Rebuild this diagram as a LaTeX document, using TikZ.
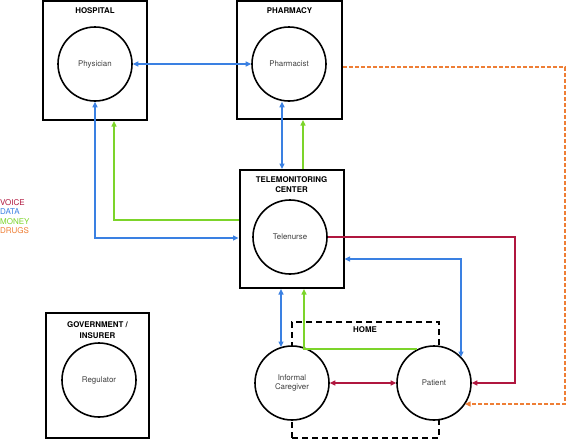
\documentclass[tikz,border=0pt]{standalone}
\usepackage{fontspec}
\setmainfont{TeX Gyre Heros}
\usetikzlibrary{arrows.meta,calc}
\definecolor{cvoice}{HTML}{B0173F}
\definecolor{cdata}{HTML}{3A80E2}
\definecolor{cmoney}{HTML}{7CD42A}
\definecolor{cdrugs}{HTML}{EE7E35}
\begin{document}
\begin{tikzpicture}[x=1pt,y=-1pt,
  org/.style={draw=black,line width=2pt,rectangle,inner sep=0pt},
  actor/.style={draw=black,fill=white,line width=1.6pt,circle,minimum size=74pt,inner sep=0pt,
     font=\fontsize{7.9}{9.5}\selectfont,text=black!75,align=center},
  orglabel/.style={font=\fontsize{7.9}{10.3}\selectfont\bfseries,align=center,inner sep=0pt},
  legend/.style={font=\fontsize{8}{8}\selectfont,anchor=west,inner sep=0pt},
  onetip/.style={-{Triangle[length=5.5pt,width=5pt]}},
  twotip/.style={{Triangle[length=5.5pt,width=5pt]}-{Triangle[length=5.5pt,width=5pt]}},
  voice/.style={draw=cvoice,line width=2pt},
  data/.style={draw=cdata,line width=2pt},
  money/.style={draw=cmoney,line width=2pt},
  drugs/.style={draw=cdrugs,line width=2pt,dash pattern=on 4pt off 2pt}]
\useasboundingbox (0,0) rectangle (567,440);
% boxes
\node[org,minimum width=104pt,minimum height=119pt] (hosp) at (95,60.5) {};
\node[org,minimum width=105pt,minimum height=118pt] (pharm) at (289.5,60) {};
\node[org,minimum width=104pt,minimum height=118pt] (tele) at (291.5,229) {};
\node[org,minimum width=103pt,minimum height=125pt] (gov) at (97.5,375.5) {};
\node[draw=black,line width=2pt,dash pattern=on 6pt off 4pt,rectangle,minimum width=147pt,minimum height=116pt,inner sep=0pt] (home) at (365.5,380) {};
% labels
\node[orglabel] (hospl) at (95,11) {HOSPITAL};
\node[orglabel] (pharml) at (289.5,10.5) {PHARMACY};
\node[orglabel] (telel) at (291.5,184.5) {TELEMONITORING\\CENTER};
\node[orglabel] (govl) at (97.5,330) {GOVERNMENT /\\INSURER};
\node[orglabel] (homel) at (365,330) {HOME};
% actors
\node[actor] (phys) at (95,64) {Physician};
\node[actor] (ph) at (289,64) {Pharmacist};
\node[actor] (tn) at (290,237) {Telenurse};
\node[actor] (cg) at (292,383) {Informal\\Caregiver};
\node[actor] (pt) at (434,383) {Patient};
\node[actor] (reg) at (99,380) {Regulator};
% legend
\node[legend,text=cvoice] (lv) at (0,202.3) {VOICE};
\node[legend,text=cdata] (ld) at (0,211.8) {DATA};
\node[legend,text=cmoney] (lm) at (0,221.3) {MONEY};
\node[legend,text=cdrugs] (ldr) at (0,230.8) {DRUGS};
% connectors
\draw[data,twotip] (phys.east) -- (ph.west);
\draw[data,twotip] (phys.south) |- (tele.west |- 0,238);
\draw[money,onetip] (tele.west |- 0,220) -| (hosp.south -| 114,0);
\draw[data,twotip] (ph.south -| 282,0) -- (tele.north -| 282,0);
\draw[money,onetip] (tele.north -| 303,0) -- (pharm.south -| 303,0);
\draw[drugs,onetip] (pharm.east |- 0,67) -- (565,67) |- ($(pt.center)+(31,21)$);
\draw[voice,onetip] (tn.east) -- (tn.east -| 515,0) |- (pt.east);
\draw[data,twotip] (tele.east |- 0,259) -| ($(pt.center)+(27,-26)$);
\draw[data,twotip] (tele.south -| 281,0) -- ($(cg.center)+(-11,-36)$);
\draw[money,onetip] ($(pt.center)+(-17,-34)$) -| (tele.south -| 304,0);
\draw[voice,twotip] (cg.east) -- (pt.west);
\end{tikzpicture}
\end{document}
